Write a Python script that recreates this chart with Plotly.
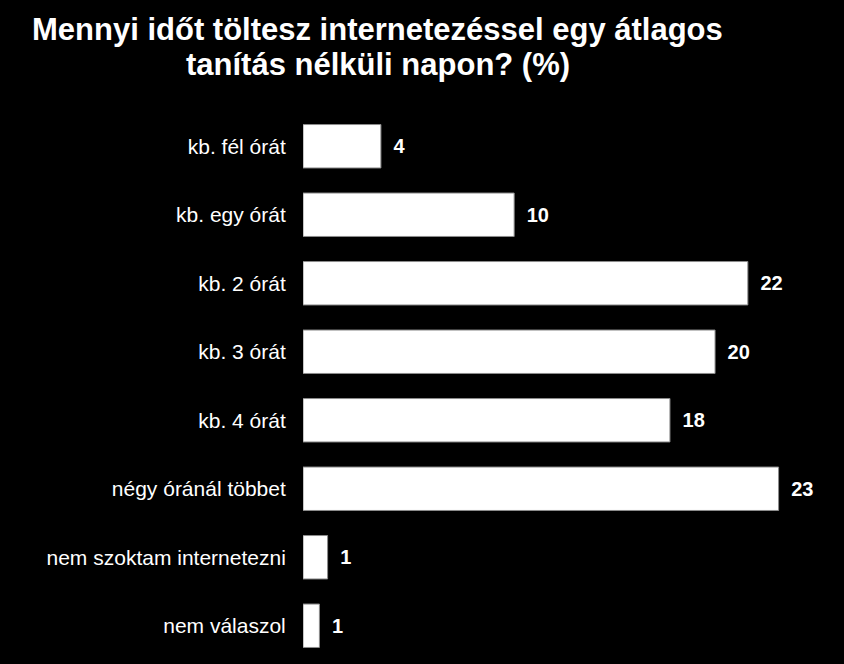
import plotly.graph_objects as go

categories = ["kb. fél órát", "kb. egy órát", "kb. 2 órát", "kb. 3 órát", "kb. 4 órát",
              "négy óránál többet", "nem szoktam internetezni", "nem válaszol"]
values = [3.8, 10.3, 21.7, 20.1, 17.9, 23.2, 1.2, 0.8]
labels = ["4", "10", "22", "20", "18", "23", "1", "1"]
title_line1 = "Mennyi időt töltesz internetezéssel egy átlagos"
title_line2 = "tanítás nélküli napon? (%)"

FONT = "Liberation Sans, Arial, sans-serif"

fig = go.Figure(go.Bar(
    y=categories, x=values, orientation="h",
    marker=dict(color="white", line=dict(color="#8c8c8c", width=1)),
    text=["\u00a0\u2009" + t for t in labels], textposition="outside",
    constraintext="none",
    textfont=dict(family=FONT, size=20, color="white", weight="bold"),
    cliponaxis=False,
))

fig.update_layout(
    width=844, height=664,
    paper_bgcolor="black", plot_bgcolor="black",
    margin=dict(l=303, r=8, t=112, b=4),
    bargap=0.366,
    showlegend=False,
    xaxis=dict(range=[0, 26], visible=False, showgrid=False, zeroline=False),
    yaxis=dict(autorange="reversed", showgrid=False, zeroline=False, showline=False,
               ticks="outside", ticklen=12, tickcolor="rgba(0,0,0,0)",
               tickfont=dict(family=FONT, size=21, color="white")),
    annotations=[
        dict(text=title_line1, x=377, y=664 - 35, xref="paper", yref="paper",
             showarrow=False),
        dict(text=title_line2, x=378, y=664 - 70, xref="paper", yref="paper",
             showarrow=False),
    ],
)

# convert pixel positions to paper coordinates for the title annotations
pw = 844 - 303 - 8
ph = 664 - 112 - 4
for a in fig.layout.annotations:
    px, py = a.x, a.y
    a.x = (px - 303) / pw
    a.y = (py - 4) / ph
    a.xanchor = "center"
    a.yanchor = "bottom"
    a.yshift = -14
    a.font = dict(family=FONT, size=31, color="white", weight="bold")

fig.write_html("out.html")
